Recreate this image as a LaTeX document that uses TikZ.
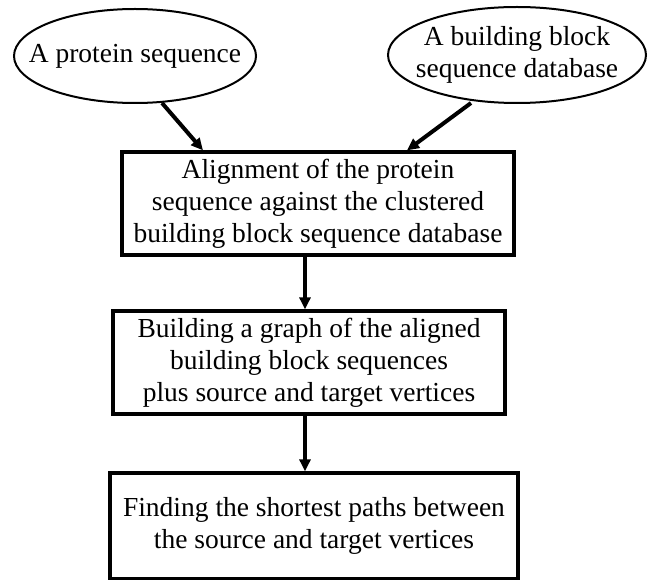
\documentclass[tikz,border=0pt]{standalone}
\usepackage{fontspec}
\setmainfont{Liberation Serif}
\usetikzlibrary{shapes.geometric,arrows.meta}
\newcommand{\fixedtext}[1]{\makebox[0pt]{\begin{tabular}{@{}c@{}}#1\end{tabular}}}
\tikzset{
  oval/.style={ellipse, draw, line width=2pt, inner sep=0pt, outer sep=0pt,
    font=\fontsize{27.5}{32}\selectfont},
  stepbox/.style={rectangle, draw, line width=3.3pt, inner sep=0pt, align=center,
    font=\fontsize{27.5}{32}\selectfont},
  arr/.style={line width=4pt, -{Triangle[length=12pt,width=11pt]}}
}
\begin{document}
\begin{tikzpicture}[x=1pt,y=-1pt]
\useasboundingbox (0,0) rectangle (648,580);
\node[oval, minimum width=242pt, minimum height=94pt] (e1) at (135,56) {\fixedtext{A protein sequence}};
\node[oval, minimum width=258pt, minimum height=96pt] (e2) at (517,55) {\fixedtext{A building block\\sequence database}};
\node[stepbox, minimum width=392pt, minimum height=103pt] (b1) at (318,203.5)
  {Alignment of the protein\\sequence against the clustered\\building block sequence database};
\node[stepbox, minimum width=392pt, minimum height=103pt] (b2) at (309,362.5)
  {Building a graph of the aligned\\building block sequences\\plus source and target vertices};
\node[stepbox, minimum width=408pt, minimum height=106pt] (b3) at (314,526)
  {\raisebox{-4pt}{\begin{tabular}{@{}c@{}}Finding the shortest paths between\\the source and target vertices\end{tabular}}};
\draw[arr] ([xshift=27pt]e1.south) -- ([xshift=-115pt]b1.north);
\draw[arr] ([xshift=-46pt]e2.south) -- ([xshift=89pt]b1.north);
\draw[arr] ([xshift=-13pt]b1.south) -- ([xshift=-4pt]b2.north);
\draw[arr] ([xshift=-4pt]b2.south) -- ([xshift=-9pt]b3.north);
\end{tikzpicture}
\end{document}
